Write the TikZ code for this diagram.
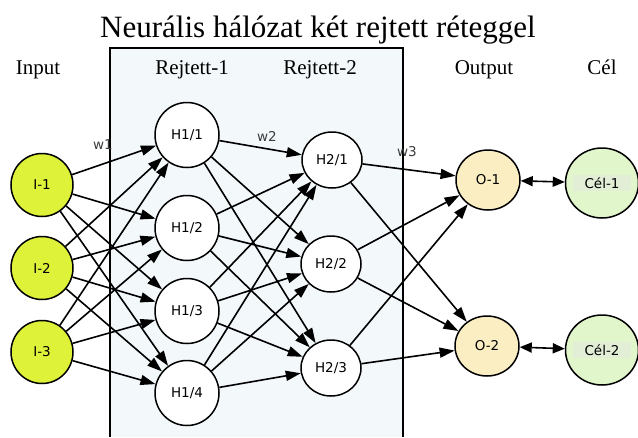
\documentclass[tikz,border=0pt]{standalone}
\usepackage{fontspec}
\setmainfont{Liberation Serif}
\newfontfamily\nodefont{DejaVu Sans}
\usetikzlibrary{shapes.geometric,arrows.meta}
\definecolor{inpfill}{RGB}{222,242,58}
\definecolor{outfill}{RGB}{251,238,194}
\definecolor{celfill}{RGB}{226,246,204}
\definecolor{cellabel}{RGB}{226,238,214}
\definecolor{boxfill}{RGB}{243,248,250}
\definecolor{wcol}{RGB}{60,60,60}
\newcommand{\cellab}[1]{{\setlength{\fboxsep}{3pt}\colorbox{cellabel}{\makebox[52pt]{#1}}}}
\begin{document}
\begin{tikzpicture}[x=1pt,y=-1pt,
  neuron/.style={ellipse,draw,line width=1.5pt,inner sep=0pt,font=\nodefont\fontsize{13.5}{15}\selectfont},
  inp/.style={neuron,fill=inpfill,minimum width=62pt,minimum height=63pt},
  hid/.style={neuron,fill=white,minimum width=64pt,minimum height=65pt},
  hidb/.style={neuron,fill=white,minimum width=60pt,minimum height=56pt},
  outn/.style={neuron,fill=outfill,minimum width=64pt,minimum height=60pt},
  celn/.style={neuron,fill=celfill,inner xsep=-6pt,minimum width=73pt,minimum height=70pt},
  layerlabel/.style={anchor=base,font=\fontsize{21}{24}\selectfont},
  wlabel/.style={font=\nodefont\fontsize{13.5}{15}\selectfont,text=wcol},
  conn/.style={line width=1.6pt,-{Triangle[length=15pt,width=10pt]}},
  twoway/.style={line width=1.6pt,{Triangle[length=12pt,width=10pt]}-{Triangle[length=12pt,width=10pt]}}
]
\useasboundingbox (0,0) rectangle (638,437);
\fill[white] (0,0) rectangle (638,437);
% hidden-layer frame
\fill[boxfill] (110,48) rectangle (403,437);
\draw[line width=1.5pt] (110,437) -- (110,48) -- (403,48) -- (403,437);
% title and layer labels
\node[anchor=base,font=\fontsize{31}{36}\selectfont] (title) at (318,37) {Neurális hálózat két rejtett réteggel};
\node[layerlabel] (linput) at (38,74) {Input};
\node[layerlabel] (lh1) at (192,74) {Rejtett-1};
\node[layerlabel] (lh2) at (320,74) {Rejtett-2};
\node[layerlabel] (lout) at (484,74) {Output};
\node[layerlabel] (lcel) at (602,74) {Cél};
% nodes
\node[inp] (i1) at (42,185) {I-1};
\node[inp] (i2) at (42,268) {I-2};
\node[inp] (i3) at (42,352) {I-3};
\node[hid] (h1) at (187,135) {H1/1};
\node[hid] (h2) at (187,228) {H1/2};
\node[hid] (h3) at (187,311) {H1/3};
\node[hid] (h4) at (187,393) {H1/4};
\node[hidb] (g1) at (332,160) {H2/1};
\node[hidb] (g2) at (331,264) {H2/2};
\node[hidb] (g3) at (331,368) {H2/3};
\node[outn] (o1) at (488,180) {O-1};
\node[outn] (o2) at (487,346) {O-2};
\node[celn] (c1) at (602,183) {\cellab{Cél-1}};
\node[celn] (c2) at (602,350) {\cellab{Cél-2}};
% connections
\foreach \a in {1,2,3}{\foreach \b in {1,2,3,4}{\draw[conn] (i\a) -- (h\b);}}
\foreach \a in {1,2,3,4}{\foreach \b in {1,2,3}{\draw[conn] (h\a) -- (g\b);}}
\foreach \a in {1,2,3}{\foreach \b in {1,2}{\draw[conn] (g\a) -- (o\b);}}
\draw[twoway] (o1) -- (c1);
\draw[twoway] (o2) -- (c2);
% weight labels
\node[wlabel] (w1) at (103,145) {w1};
\node[wlabel] (w2) at (267,136) {w2};
\node[wlabel] (w3) at (407,152) {w3};
\end{tikzpicture}
\end{document}
